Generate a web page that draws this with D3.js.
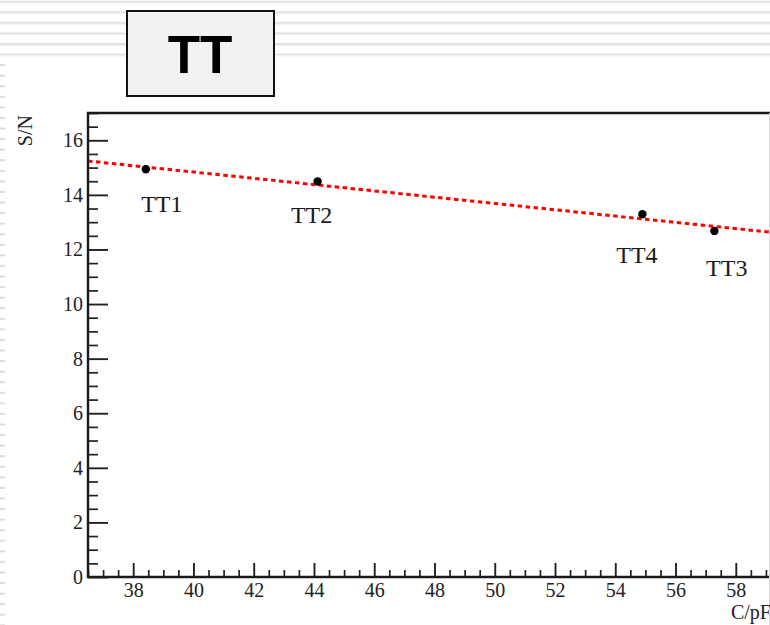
<!DOCTYPE html>
<html>
<head>
<meta charset="utf-8">
<script src="https://cdn.jsdelivr.net/npm/d3@7"></script>
<style>
  html, body { margin: 0; padding: 0; background: #fff; }
  svg { display: block; }
  .tick text { font-family: "Liberation Serif", "Times New Roman", serif; font-size: 20px; fill: #222; }
</style>
</head>
<body>
<svg id="chart" width="770" height="625"></svg>
<script>
// Detector names, capacitance (pF) and signal-to-noise ratio
const names = ["TT1", "TT2", "TT4", "TT3"];
const capacitance = [38.42, 44.12, 54.90, 57.29];
const signalNoise = [14.94, 14.49, 13.29, 12.68];

// Where each name label sits, in data units (centre x, baseline y)
const labelX = [38.95, 43.92, 54.72, 57.70];
const labelY = [13.39, 12.97, 11.51, 11.03];

// Linear fit S/N = a + b*C
const fitIntercept = 19.445;
const fitSlope = -0.1152;

// Axis ranges and tick values
const xDomain = [36.5, 59.3];
const yDomain = [0, 17];
const xMajorTicks = [38, 40, 42, 44, 46, 48, 50, 52, 54, 56, 58];
const yMajorTicks = [0, 2, 4, 6, 8, 10, 12, 14, 16];
const minorStep = 0.5;

(function draw() {
  const svg = d3.select("#chart");
  const W = 770, H = 625;

  // ---- slide background: light stripes along the top, short dashes down the left edge
  const stripePeriod = 10.57;
  const bg = svg.append("g");
  for (let k = 0; k * stripePeriod < H; k++) {
    const yy = 0.7 + k * stripePeriod;
    const full = k < 6;
    bg.append("rect")
      .attr("x", 0).attr("y", yy)
      .attr("width", full ? W : 5).attr("height", 2)
      .attr("fill", full ? "#e2e2e2" : "#dcdcdc");
    if (full) {
      bg.append("rect").attr("x", 0).attr("y", yy + 2).attr("width", W).attr("height", 1).attr("fill", "#f1f1f1");
    }
  }

  // ---- title box
  svg.append("rect")
    .attr("x", 127).attr("y", 11).attr("width", 147).attr("height", 85)
    .attr("fill", "#f2f2f2").attr("stroke", "#111").attr("stroke-width", 2);
  svg.append("text")
    .attr("x", 200).attr("y", 73)
    .attr("text-anchor", "middle")
    .style("font-family", "'Liberation Sans', Arial, sans-serif")
    .style("font-weight", "bold")
    .style("font-size", "53px")
    .attr("fill", "#000")
    .text("TT");

  // ---- plot area
  const pLeft = 88, pTop = 113, pBottom = 577;
  const pRight = pLeft + (xDomain[1] - xDomain[0]) * 30.13;

  const x = d3.scaleLinear().domain(xDomain).range([pLeft, pRight]);
  const y = d3.scaleLinear().domain(yDomain).range([pBottom, pTop]);

  svg.append("rect").attr("x", pLeft).attr("y", pTop).attr("width", W - pLeft).attr("height", pBottom - pTop).attr("fill", "#fff");

  const minorX = d3.range(xDomain[0], xDomain[1] + 1e-9, minorStep).filter(v => !xMajorTicks.includes(v));
  const minorY = d3.range(yDomain[0], yDomain[1] + 1e-9, minorStep).filter(v => !yMajorTicks.includes(v));

  // minor ticks
  svg.append("g").attr("transform", `translate(0,${pBottom})`)
    .call(d3.axisBottom(x).tickValues(minorX).tickSize(-7).tickFormat(""))
    .call(g => g.select(".domain").remove())
    .selectAll("line").attr("stroke", "#222").attr("stroke-width", 1.7);
  svg.append("g").attr("transform", `translate(${pLeft},0)`)
    .call(d3.axisLeft(y).tickValues(minorY).tickSize(-10).tickFormat(""))
    .call(g => g.select(".domain").remove())
    .selectAll("line").attr("stroke", "#222").attr("stroke-width", 1.7);

  // major ticks with labels
  const xAxis = svg.append("g").attr("transform", `translate(0,${pBottom})`)
    .call(d3.axisBottom(x).tickValues(xMajorTicks).tickSize(-14).tickPadding(6).tickFormat(d3.format("d")))
    .call(g => g.select(".domain").remove());
  xAxis.selectAll("line").attr("stroke", "#222").attr("stroke-width", 1.9);

  const yAxis = svg.append("g").attr("transform", `translate(${pLeft},0)`)
    .call(d3.axisLeft(y).tickValues(yMajorTicks).tickSize(-20).tickPadding(5).tickFormat(d3.format("d")))
    .call(g => g.select(".domain").remove());
  yAxis.selectAll("line").attr("stroke", "#222").attr("stroke-width", 1.9);

  // frame
  svg.append("path")
    .attr("d", `M${W + 5},${pTop}H${pLeft}V${pBottom}H${W + 5}`)
    .attr("fill", "none").attr("stroke", "#1a1a1a").attr("stroke-width", 2.4);
  svg.append("line")
    .attr("x1", 769.5).attr("x2", 769.5).attr("y1", pTop).attr("y2", H)
    .attr("stroke", "#d8d8d8").attr("stroke-width", 1);

  // axis titles
  svg.append("text")
    .attr("x", W + 1).attr("y", 619)
    .attr("text-anchor", "end")
    .style("font-family", "'Liberation Serif', 'Times New Roman', serif")
    .style("font-size", "20px").attr("fill", "#222")
    .text("C/pF");
  svg.append("text")
    .attr("transform", "translate(32,115) rotate(-90)")
    .attr("text-anchor", "end")
    .style("font-family", "'Liberation Serif', 'Times New Roman', serif")
    .style("font-size", "20px").attr("fill", "#222")
    .text("S/N");

  // clip for the fit line
  svg.append("clipPath").attr("id", "plotClip")
    .append("rect").attr("x", pLeft + 1).attr("y", pTop).attr("width", W - pLeft).attr("height", pBottom - pTop);

  // fit line
  const fitLine = d3.line().x(d => x(d)).y(d => y(fitIntercept + fitSlope * d));
  svg.append("path")
    .datum(xDomain)
    .attr("clip-path", "url(#plotClip)")
    .attr("d", fitLine)
    .attr("fill", "none")
    .attr("stroke", "#ff0000")
    .attr("stroke-width", 3)
    .attr("stroke-dasharray", "4.5,3.5");

  // data points
  const pts = names.map((n, i) => ({ name: n, c: capacitance[i], sn: signalNoise[i], lx: labelX[i], ly: labelY[i] }));
  svg.append("g").selectAll("circle").data(pts).join("circle")
    .attr("cx", d => x(d.c)).attr("cy", d => y(d.sn)).attr("r", 4.2).attr("fill", "#000");

  // point names
  svg.append("g").selectAll("text").data(pts).join("text")
    .attr("x", d => x(d.lx)).attr("y", d => y(d.ly))
    .attr("text-anchor", "middle")
    .style("font-family", "'Liberation Serif', 'Times New Roman', serif")
    .style("font-size", "24px").attr("fill", "#1a1a1a")
    .text(d => d.name);
})();
</script>
</body>
</html>
